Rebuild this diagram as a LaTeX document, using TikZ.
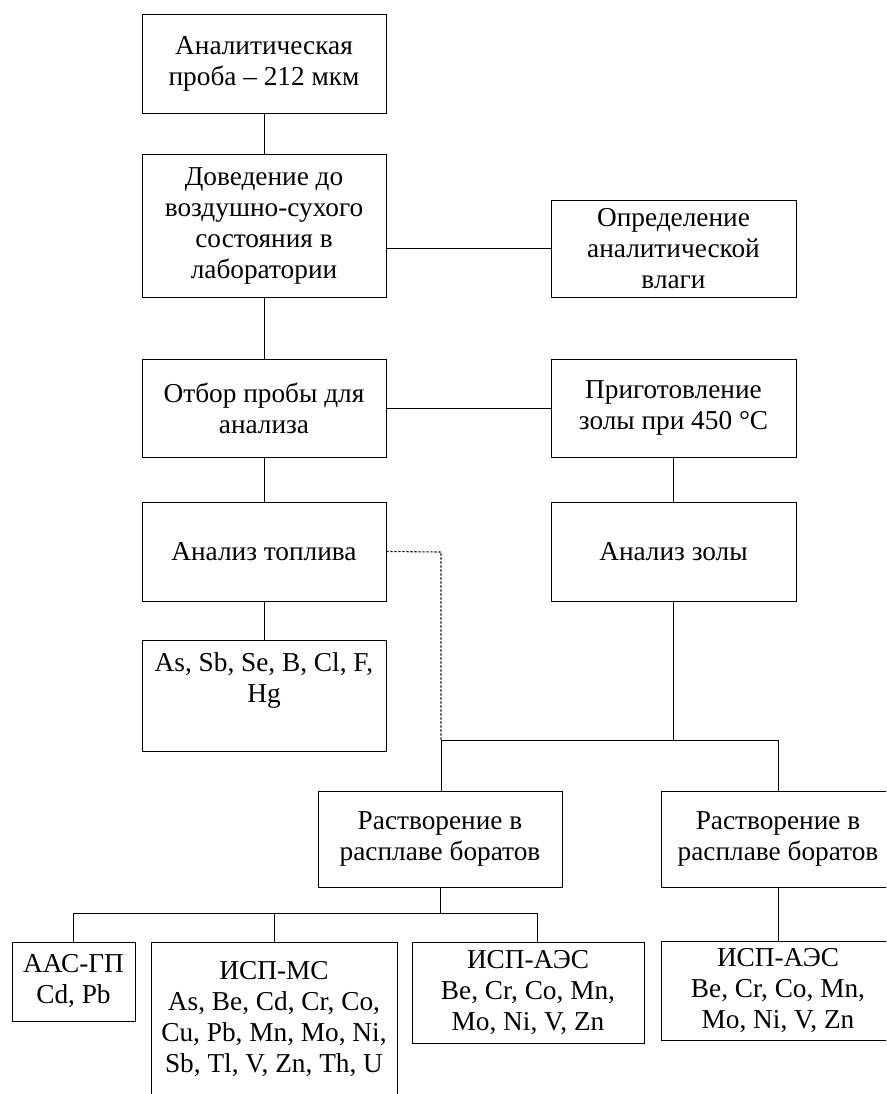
\documentclass[tikz,border=0pt]{standalone}
\usepackage{fontspec}
\setmainfont{Liberation Serif}
\newcommand{\fs}{\fontsize{27.3}{31}\selectfont}
\begin{document}
\begin{tikzpicture}[x=1pt,y=-1pt,
  box/.style={draw, line width=0.9pt, inner sep=0pt, align=center, font=\fs},
  txt/.style={inner sep=0pt, align=center, font=\fs},
  conn/.style={line width=0.9pt},
  dotconn/.style={line width=1.1pt, dash pattern=on 2.2pt off 1.8pt}]
\useasboundingbox (0,0) rectangle (886,1094);
\clip (0,0) rectangle (886,1094);
\node[box, minimum width=244pt, minimum height=99pt] (b1) at (264,63.5) {Аналитическая\\проба – 212 мкм};
\node[box, minimum width=244pt, minimum height=143pt] (b2) at (264,225.5) {Доведение до\\воздушно-сухого\\состояния в\\лаборатории};
\node[box, minimum width=245pt, minimum height=97pt] (b3) at (673.5,248.5) {Определение\\аналитической\\влаги};
\node[box, minimum width=244pt, minimum height=98pt] (b4) at (264,408) {Отбор пробы для\\анализа};
\node[box, minimum width=245pt, minimum height=98pt] (b5) at (673.5,408) {Приготовление\\золы при 450 °C};
\node[box, minimum width=244pt, minimum height=99pt] (b6) at (264,551.5) {Анализ топлива};
\node[box, minimum width=245pt, minimum height=99pt] (b7) at (673.5,551.5) {Анализ золы};
\node[box, minimum width=244pt, minimum height=111pt] (b8) at (264,695.5) {};
\node[txt, anchor=north] (t8) at (264,652) {As, Sb, Se, B, Cl, F,\\Hg};
\node[box, minimum width=244pt, minimum height=96pt] (b9) at (440,839) {Растворение в\\расплаве боратов};
\node[draw, line width=0.9pt, inner sep=0pt, minimum width=234pt, minimum height=96pt] (b10) at (778,839) {};
\node[txt] (t10) at (b10.center) {Растворение в\\расплаве боратов};
\node[box, minimum width=123pt, minimum height=79pt] (b11) at (73.5,981.5) {ААС-ГП\\Cd, Pb};
\node[box, minimum width=246pt, minimum height=168pt] (b12) at (274,1026) {};
\node[txt, anchor=north] (t12) at (274,961.5) {ИСП-МС\\As, Be, Cd, Cr, Co,\\Cu, Pb, Mn, Mo, Ni,\\Sb, Tl, V, Zn, Th, U};
\node[box, minimum width=232pt, minimum height=101pt] (b13) at (528,992.5) {ИСП-АЭС\\Be, Cr, Co, Mn,\\Mo, Ni, V, Zn};
\node[draw, line width=0.9pt, inner sep=0pt, minimum width=234pt, minimum height=99pt] (b14) at (778,990.5) {};
\node[txt] (t14) at (b14.center) {ИСП-АЭС\\Be, Cr, Co, Mn,\\Mo, Ni, V, Zn};
% junction coordinates
\coordinate (d1) at (441,552);
\coordinate (j1) at (441,740);
\coordinate (j3) at (778,740);
\coordinate (k0) at (440,913);
\coordinate (k1) at (73.5,913);
\coordinate (k2) at (274,913);
\coordinate (k3) at (537,913);
% connectors
\draw[conn] (b1.south) -- (b2.north);
\draw[conn] (b2.east |- b3.west) -- (b3.west);
\draw[conn] (b2.south) -- (b4.north);
\draw[conn] (b4.east) -- (b5.west);
\draw[conn] (b4.south) -- (b6.north);
\draw[conn] (b6.south) -- (b8.north);
\draw[conn] (b5.south) -- (b7.north);
\draw[dotconn] (b6.east) -- (d1) -- (j1);
\draw[conn] (b7.south) -- (b7.south |- j1);
\draw[conn] (j1) -- (j3);
\draw[conn] (j1) -- (j1 |- b9.north);
\draw[conn] (j3) -- (b10.north);
\draw[conn] (b9.south) -- (k0);
\draw[conn] (k1) -- (k3);
\draw[conn] (k1) -- (b11.north);
\draw[conn] (k2) -- (k2 |- b12.north);
\draw[conn] (k3) -- (k3 |- b13.north);
\draw[conn] (b10.south) -- (b14.north);
\end{tikzpicture}
\end{document}
